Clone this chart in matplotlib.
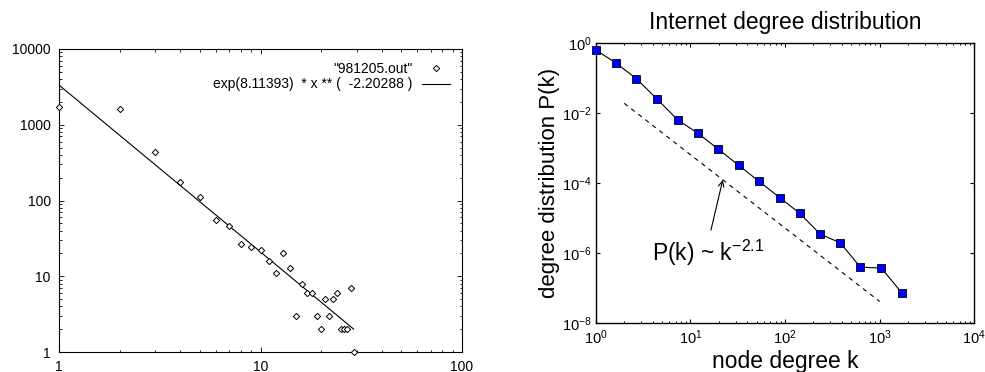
import matplotlib
matplotlib.use("Agg")
import matplotlib.pyplot as plt
from matplotlib.lines import Line2D

plt.rcParams['font.family'] = ['Liberation Sans', 'DejaVu Sans']
plt.rcParams['mathtext.fontset'] = 'custom'
plt.rcParams['mathtext.rm'] = 'Liberation Sans'
plt.rcParams['mathtext.it'] = 'Liberation Sans:italic'
plt.rcParams['mathtext.bf'] = 'Liberation Sans:bold'

# ---------------- Left panel data (gnuplot fit) ----------------
deg_x = [1, 2, 3, 4, 5, 6, 7, 8, 9, 10, 11, 12, 13, 14, 15, 16, 17, 18, 19, 20,
         21, 22, 23, 24, 25, 26, 27, 28, 29]
deg_count = [1700, 1600, 440, 178, 112, 55, 46, 27, 24, 22, 16, 11, 20, 13, 3, 8, 6, 6, 3, 2,
             5, 3, 5, 6, 2, 2, 2, 7, 1]
fit_x = [1, 29]
fit_y = [3339.0, 3339.0 * 29 ** -2.20288]
left_xticks = [1, 10, 100]
left_xticklabels = ["1", "10", "100"]
left_yticks = [1, 10, 100, 1000, 10000]
left_yticklabels = ["1", "10", "100", "1000", "10000"]
legend_data_label = '"981205.out"'
legend_fit_label = 'exp(8.11393)  * x ** (  -2.20288 )'

# ---------------- Right panel data ----------------
k_vals = [1.0, 1.65, 2.69, 4.48, 7.35, 12.05, 19.8, 32.4, 53.1, 87.9, 143, 236, 384, 625, 1042, 1707]
pk_vals = [0.65, 0.268, 0.098, 0.025, 0.0065, 0.00268, 9.4e-4, 3.27e-4, 1.14e-4, 3.9e-5,
           1.39e-5, 3.5e-6, 2.0e-6, 4.0e-7, 3.8e-7, 7.5e-8]
guide_k = [2, 1000]
guide_pk = [0.0193, 4.2e-8]
right_xticks = [1, 10, 100, 1000, 10000]
right_xticklabels = [r"$10^{0}$", r"$10^{1}$", r"$10^{2}$", r"$10^{3}$", r"$10^{4}$"]
right_yticks = [1e-8, 1e-6, 1e-4, 1e-2, 1]
right_yticklabels = [r"$10^{-8}$", r"$10^{-6}$", r"$10^{-4}$", r"$10^{-2}$", r"$10^{0}$"]

W, H = 985, 372
fig = plt.figure(figsize=(W / 100, H / 100), dpi=100)

# ---------- left axes ----------
axL = fig.add_axes([59 / W, (H - 352) / H, 403 / W, 303 / H])
axL.set_xscale('log')
axL.set_yscale('log')
axL.set_xlim(1, 100)
axL.set_ylim(1, 10000)
axL.plot(deg_x, deg_count, linestyle='none', marker='D', markersize=3.2,
         mfc='white', mec='black', mew=0.7, clip_on=False, zorder=3)
axL.plot(fit_x, fit_y, color='black', lw=0.8)
axL.set_xticks(left_xticks)
axL.set_xticklabels(left_xticklabels)
axL.set_yticks(left_yticks)
axL.set_yticklabels(left_yticklabels)
axL.tick_params(which='both', direction='in', top=True, right=True, labelsize=10)
axL.tick_params(which='major', length=3.3, width=0.6)
axL.tick_params(which='minor', length=1.8, width=0.6)
axL.tick_params(axis='x', pad=5.5)
axL.tick_params(axis='y', pad=6)
for s in axL.spines.values():
    s.set_linewidth(0.8)

hd = Line2D([], [], linestyle='none', marker='D', markersize=3.2, mfc='white', mec='black', mew=0.7)
hf = Line2D([], [], color='black', lw=0.8)
axL.legend([hd, hf], [legend_data_label, legend_fit_label], loc='upper right',
           bbox_to_anchor=(1 - 12 / 403, 1 - 13 / 303), borderaxespad=0, borderpad=0,
           frameon=False, markerfirst=False, fontsize=10, handlelength=2.0,
           handletextpad=0.7, labelspacing=0.1)

# ---------- right axes ----------
axR = fig.add_axes([595.7 / W, (H - 323.3) / H, 378.6 / W, 280 / H])
axR.set_xscale('log')
axR.set_yscale('log')
axR.set_xlim(1, 10000)
axR.set_ylim(1e-8, 1)
axR.plot(k_vals, pk_vals, color='black', lw=0.8, marker='s', markersize=6,
         mfc='#0000ff', mec='black', mew=0.6, clip_on=False, zorder=3)
axR.plot(guide_k, guide_pk, color='black', lw=0.8, linestyle=(0, (4, 4)))
axR.set_xticks(right_xticks)
axR.set_xticklabels(right_xticklabels)
axR.set_yticks(right_yticks)
axR.set_yticklabels(right_yticklabels)
axR.yaxis.set_minor_locator(matplotlib.ticker.NullLocator())
axR.tick_params(which='both', direction='in', top=True, right=True, labelsize=10.5)
axR.tick_params(which='major', length=2.8, width=0.8)
axR.tick_params(which='minor', length=1.6, width=0.7)
axR.tick_params(axis='x', pad=4)
axR.tick_params(axis='y', pad=3)
for s in axR.spines.values():
    s.set_linewidth(1.0)
axR.set_title('Internet degree distribution', fontsize=16.5, pad=10)
axR.set_xlabel('node degree k', fontsize=16.5, labelpad=2)
axR.set_ylabel('degree distribution P(k)', fontsize=16, labelpad=1)
axR.annotate('', xy=(22, 1.25e-4), xytext=(16.5, 4.6e-6),
             arrowprops=dict(arrowstyle='->', color='black', lw=0.8, shrinkA=0, shrinkB=0))
axR.text(3.9, 1.0e-6, r'P(k) ~ k$^{\mathregular{-2.1}}$', fontsize=16.5, ha='left', va='center')

fig.savefig('out.png', dpi=100)
